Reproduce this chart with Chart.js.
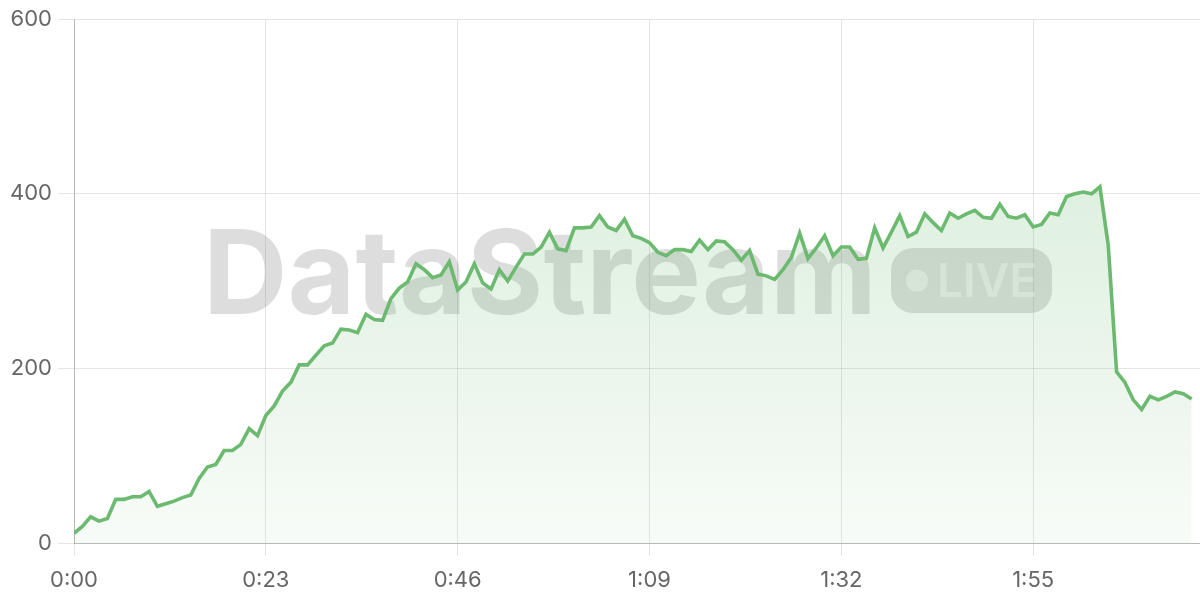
<!DOCTYPE html>
<html><head><meta charset="utf-8">
<script src="https://cdn.jsdelivr.net/npm/chart.js@4.4.1/dist/chart.umd.min.js"></script>
<style>html,body{margin:0;padding:0;background:#fff}#wrap{width:1200px;height:600px;position:relative}</style>
</head><body><div id="wrap"><canvas id="c"></canvas></div>
<script>
// values sampled once per second, starting at 0:00
const values = [
  11, 19, 30, 25, 28, 50, 50, 53, 53, 59, 42, 45, 48, 52, 55, 74, 87, 90, 106, 106, 113, 131, 123, 146, 157, 174, 184,
  204, 204, 215, 226, 229, 245, 244, 241, 262, 256, 255, 280, 292, 299, 320, 313, 304,
  307, 322, 290, 299, 320, 298, 291, 313, 300, 316, 331, 331, 339, 356, 337, 335, 361, 361, 362, 375, 362, 358, 371, 352, 349, 344, 333, 329, 336, 336, 334, 347, 336, 346, 345, 336,
  324, 335, 308, 306, 302, 313, 327, 355, 326, 338, 352, 329, 339, 339, 325, 326, 361, 338, 356, 375, 351, 356, 377, 367, 358, 378, 372, 377, 381,
  373, 372, 388, 374, 372, 376, 362, 365, 378, 376, 397, 400, 402, 400, 408, 341, 196, 184, 164, 153, 168, 164, 168, 173, 171, 165
];
const xRange = [0, 135];      // seconds
const xTickStep = 23;         // 0:00, 0:23, 0:46, ...
const yRange = [0, 600];
const yTickStep = 200;
const watermarkText = 'DataStream';
const badgeText = 'LIVE';

const points = values.map((v, i) => ({ x: i, y: v }));
const fmtTime = s => Math.floor(s / 60) + ':' + String(s % 60).padStart(2, '0');

const watermark = {
  id: 'wm',
  beforeDatasetsDraw(chart) {
    const { ctx, chartArea: a } = chart;
    const cx = (a.left + a.right) / 2, cy = (a.top + a.bottom) / 2;
    ctx.save();
    ctx.fillStyle = 'rgba(0,0,0,0.135)';
    ctx.font = '700 117px Inter';
    ctx.textBaseline = 'alphabetic';
    let m = ctx.measureText(watermarkText);
    const inkW = m.actualBoundingBoxLeft + m.actualBoundingBoxRight;
    const target = 660;
    const ls = (target - inkW) / (watermarkText.length - 1);
    ctx.letterSpacing = ls + 'px';
    const left = cx - 427;
    ctx.fillText(watermarkText, left + m.actualBoundingBoxLeft, cy + 33);
    ctx.letterSpacing = '0px';
    // pill
    const px = cx + 254, py = cy - 33, pw = 161, ph = 65;
    ctx.beginPath();
    ctx.roundRect(px, py, pw, ph, 22);
    ctx.fill();
    ctx.fillStyle = 'rgba(255,255,255,0.45)';
    ctx.beginPath();
    ctx.arc(px + 26, py + 32.5, 11, 0, Math.PI * 2);
    ctx.fill();
    ctx.font = '600 46px Inter';
    ctx.fillText(badgeText, px + 46, py + 49);
    ctx.restore();
  }
};

new Chart(document.getElementById('c'), {
  type: 'line',
  data: {
    datasets: [{
      data: points,
      borderColor: 'rgb(108,186,112)',
      borderWidth: 3.6,
      pointRadius: 0,
      tension: 0,
      fill: 'origin',
      backgroundColor(ctx) {
        const a = ctx.chart.chartArea;
        if (!a) return 'rgba(108,186,112,0.15)';
        const g = ctx.chart.ctx.createLinearGradient(0, a.top, 0, a.bottom);
        g.addColorStop(0, 'rgba(108,186,112,0.30)');
        g.addColorStop(1, 'rgba(108,186,112,0.05)');
        return g;
      }
    }]
  },
  options: {
    responsive: true,
    maintainAspectRatio: false,
    animation: false,
    layout: { padding: { left: 8, right: 0, top: 6, bottom: 0 } },
    plugins: { legend: { display: false }, tooltip: { enabled: false } },
    scales: {
      x: {
        type: 'linear',
        min: xRange[0], max: xRange[1],
        afterFit: s => { s.height = 57; },
        grid: { color: 'rgba(0,0,0,0.1)', tickLength: 13, lineWidth: 1 },
        border: { color: 'rgba(0,0,0,0.2)', width: 1 },
        ticks: {
          stepSize: xTickStep, includeBounds: false, maxRotation: 0,
          padding: 11, color: '#666',
          font: { family: 'Inter', size: 22 },
          callback: v => fmtTime(v)
        }
      },
      y: {
        min: yRange[0], max: yRange[1],
        afterFit: s => { s.width = 66; },
        grid: { color: 'rgba(0,0,0,0.1)', tickLength: 16, lineWidth: 1 },
        border: { color: 'rgba(0,0,0,0.2)', width: 1 },
        ticks: {
          stepSize: yTickStep, padding: 6, color: '#666',
          font: { family: 'Inter', size: 22 }
        }
      }
    }
  },
  plugins: [watermark]
});
</script></body></html>
